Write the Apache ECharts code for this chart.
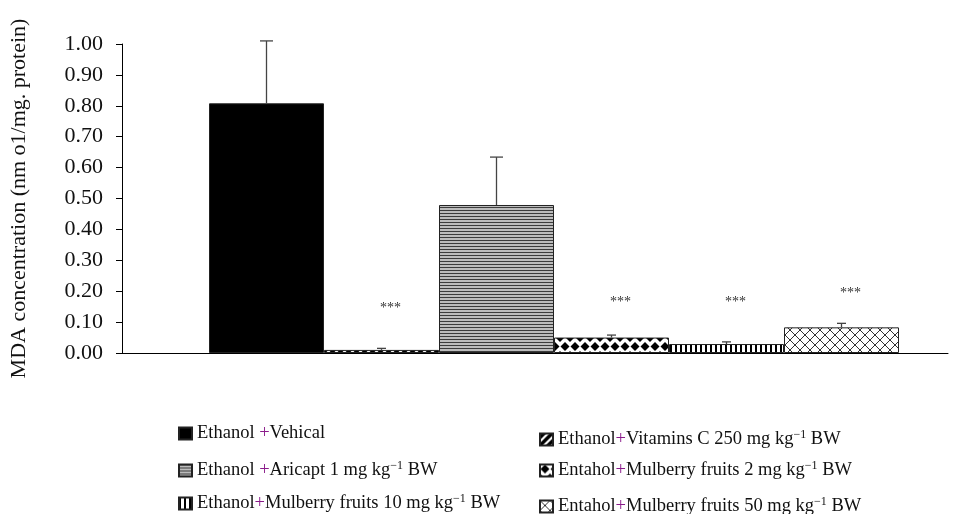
<!DOCTYPE html>
<html><head><meta charset="utf-8">
<script src="https://cdn.jsdelivr.net/npm/echarts@6/dist/echarts.min.js"></script>
<style>html,body{margin:0;padding:0;background:#fff}#c{width:955px;height:514px}</style>
</head><body><div id="c"></div>
<script>
// ---- data ----
const groups = [
  'Ethanol +Vehical',
  'Ethanol+Vitamins C 250 mg kg−1 BW',
  'Ethanol +Aricapt 1 mg kg−1 BW',
  'Entahol+Mulberry fruits 2 mg kg−1 BW',
  'Ethanol+Mulberry fruits 10 mg kg−1 BW',
  'Entahol+Mulberry fruits 50 mg kg−1 BW'
];
const means  = [0.808, 0.010, 0.479, 0.050, 0.029, 0.083];
const errors = [0.202, 0.005, 0.155, 0.008, 0.007, 0.013];
const sigMarks  = ['', '***', '', '***', '***', '***'];
const sigHeight = [0, 0.146, 0, 0.165, 0.165, 0.194];
const yTicks = [0, 0.1, 0.2, 0.3, 0.4, 0.5, 0.6, 0.7, 0.8, 0.9, 1.0];

// ---- fill patterns ----
function tile(w, h, draw) {
  const c = document.createElement('canvas'); c.width = w; c.height = h;
  const g = c.getContext('2d'); draw(g, w, h); return {image: c, repeat: 'repeat'};
}
const fills = [
  '#000000',
  tile(8, 8, (g, w, h) => { g.fillStyle = '#000'; g.fillRect(0,0,w,h); g.strokeStyle = '#fff'; g.lineWidth = 2.2;
    g.beginPath(); g.moveTo(-2, h+2); g.lineTo(w+2, -2); g.moveTo(-2, 2); g.lineTo(2, -2); g.moveTo(w-2, h+2); g.lineTo(w+2, h-2); g.stroke(); }),
  tile(3, 3, (g, w, h) => { g.fillStyle = '#bcbcbc'; g.fillRect(0,0,w,h); g.fillStyle = '#3c3c3c'; g.fillRect(0,0,w,1); }),
  tile(10, 18, (g, w, h) => { g.fillStyle = '#fff'; g.fillRect(0,0,w,h); g.fillStyle = '#000';
    const d = (x, y) => { g.beginPath(); g.moveTo(x, y-4.5); g.lineTo(x+4.5, y); g.lineTo(x, y+4.5); g.lineTo(x-4.5, y); g.closePath(); g.fill(); };
    d(5, 4.5); d(0, 13.5); d(10, 13.5); }),
  tile(5, 5, (g, w, h) => { g.fillStyle = '#fff'; g.fillRect(0,0,w,h); g.fillStyle = '#000'; g.fillRect(0,0,2,h); }),
  tile(10, 10, (g, w, h) => { g.fillStyle = '#fff'; g.fillRect(0,0,w,h); g.strokeStyle = '#333'; g.lineWidth = 1;
    g.beginPath(); g.moveTo(0,0); g.lineTo(w,h); g.moveTo(w,0); g.lineTo(0,h);
    g.moveTo(-5,5); g.lineTo(5,-5); g.moveTo(5,15); g.lineTo(15,5); g.moveTo(-5,5); g.lineTo(5,15); g.moveTo(5,-5); g.lineTo(15,5); g.stroke(); })
];

const FONT = 'Liberation Serif';
const chart = echarts.init(document.getElementById('c'), null, {renderer: 'canvas'});

const barSeries = groups.map((name, i) => ({
  name: name, type: 'bar', stack: 'all', barWidth: 115,
  data: [[i, means[i]]],
  itemStyle: {color: fills[i], borderColor: '#222', borderWidth: 1},
  emphasis: {disabled: true}, animation: false
}));

const errSeries = {
  type: 'custom', animation: false, silent: true, z: 5,
  data: means.map((m, i) => [i, m, errors[i], sigHeight[i]]),
  renderItem: function (params, api) {
    const x = api.value(0), m = api.value(1), e = api.value(2), s = api.value(3);
    const p0 = api.coord([x, m]); const p1 = api.coord([x, m + e]);
    const cap = e > 0.1 ? 6.5 : 4.5;
    const children = [
      {type: 'line', shape: {x1: p0[0], y1: p0[1], x2: p1[0], y2: p1[1]}, style: {stroke: '#444', lineWidth: 1.3}},
      {type: 'line', shape: {x1: p1[0]-cap, y1: p1[1], x2: p1[0]+cap, y2: p1[1]}, style: {stroke: '#444', lineWidth: 1.3}}
    ];
    const mark = sigMarks[params.dataIndex];
    if (mark) {
      const ps = api.coord([x, s]);
      children.push({type: 'text', style: {text: mark, x: ps[0] + 9, y: ps[1], align: 'center', verticalAlign: 'middle',
        font: '14px "' + FONT + '"', fill: '#333'}});
    }
    return {type: 'group', children: children};
  }
};

const richStyles = {
  t: {fontFamily: FONT, fontSize: 18.5, color: '#111'},
  p: {fontFamily: FONT, fontSize: 18.5, color: '#8a1a8a'},
  s: {fontFamily: FONT, fontSize: 12, color: '#111', verticalAlign: 'top', padding: [0, 0, 9, 0]}
};
function legendFmt(name) {
  return name.split(/(\+|−1)/).filter(Boolean).map(t => t === '+' ? '{p|+}' : t === '−1' ? '{s|−1}' : '{t|' + t + '}').join('');
}
// legend slot for each group: [left, top]
const legendSlots = [[178, 424], [539, 429], [178, 460], [539, 460], [178, 493], [539, 496]];
const legends = groups.map((g, i) => ({
  data: [g], left: legendSlots[i][0], top: legendSlots[i][1], padding: 0,
  itemWidth: 13, itemHeight: 12, icon: 'rect', formatter: legendFmt, selectedMode: false,
  textStyle: {fontFamily: FONT, fontSize: 18.5, color: '#111', rich: richStyles}
}));

chart.setOption({
  backgroundColor: '#fff',
  animation: false,
  grid: {left: 122, right: 7, top: 44, bottom: 161},
  legend: legends,
  xAxis: {
    type: 'value', min: -0.5 - 87/115, max: 5.5 + 49/115,
    axisLine: {show: true, onZero: true, lineStyle: {color: '#000', width: 1}},
    axisTick: {show: false}, axisLabel: {show: false}, splitLine: {show: false}
  },
  yAxis: {
    type: 'value', min: yTicks[0], max: yTicks[yTicks.length - 1], interval: 0.1,
    name: 'MDA concentration (nm o1/mg. protein)', nameLocation: 'middle', nameGap: 92,
    nameTextStyle: {fontFamily: FONT, fontSize: 22, color: '#111'},
    axisLine: {show: true, onZero: false, lineStyle: {color: '#000', width: 1}},
    axisTick: {show: true, inside: false, length: 6, lineStyle: {color: '#000'}},
    axisLabel: {formatter: v => v.toFixed(2), fontFamily: FONT, fontSize: 22, color: '#111', margin: 19},
    splitLine: {show: false}
  },
  series: barSeries.concat([errSeries])
});
</script></body></html>
